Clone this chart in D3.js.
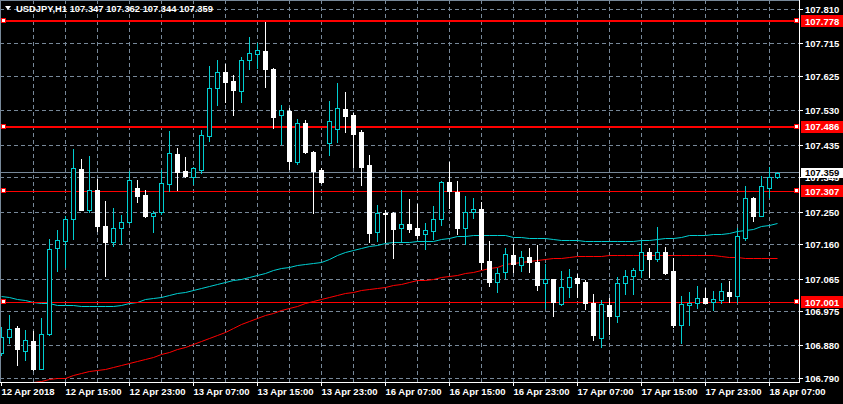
<!DOCTYPE html>
<html><head><meta charset="utf-8">
<script src="https://cdn.jsdelivr.net/npm/d3@7"></script>
<style>html,body{margin:0;padding:0;background:#000;}svg{display:block;}</style>
</head><body>
<script>
// ---- data (USDJPY H1) ----
const symbol = "USDJPY,H1";
const open = [106.860,106.904,106.929,106.867,106.894,106.817,106.912,107.150,107.171,107.230,
107.368,107.257,107.311,107.212,107.168,107.205,107.222,107.316,107.297,107.240,
107.249,107.327,107.410,107.364,107.348,107.366,107.461,107.592,107.636,107.612,
107.586,107.671,107.688,107.695,107.646,107.518,107.529,107.389,107.495,107.417,
107.366,107.442,107.479,107.535,107.518,107.471,107.380,107.196,107.247,107.247,
107.205,107.216,107.205,107.189,107.199,107.230,107.332,107.306,107.207,107.251,
107.259,107.115,107.056,107.084,107.131,107.104,107.125,107.113,107.053,107.064,
106.996,107.042,107.068,107.056,107.000,106.903,106.993,106.964,107.053,107.074,
107.089,107.139,107.121,107.139,107.087,106.938,106.994,107.000,107.012,107.002,
107.007,107.029,107.019,107.179,107.288,107.240,107.317,107.347];
const high = [106.933,106.966,106.935,106.924,106.922,106.956,107.176,107.200,107.239,107.424,
107.397,107.405,107.341,107.281,107.260,107.242,107.364,107.339,107.311,107.254,
107.366,107.474,107.426,107.401,107.375,107.477,107.654,107.670,107.659,107.629,
107.678,107.734,107.717,107.775,107.648,107.546,107.537,107.507,107.505,107.419,
107.371,107.557,107.606,107.582,107.523,107.477,107.408,107.270,107.256,107.251,
107.311,107.286,107.272,107.219,107.266,107.336,107.388,107.336,107.294,107.288,
107.277,107.170,107.095,107.150,107.162,107.142,107.151,107.159,107.107,107.065,
107.087,107.093,107.078,107.062,107.024,107.007,107.013,107.070,107.090,107.095,
107.170,107.150,107.208,107.153,107.122,107.018,107.028,107.046,107.041,107.032,
107.055,107.059,107.205,107.322,107.293,107.350,107.375,107.362];
const low = [106.855,106.887,106.828,106.841,106.813,106.815,106.910,107.088,107.099,107.175,
107.255,107.251,107.199,107.073,107.156,107.161,107.219,107.277,107.237,107.196,
107.246,107.309,107.311,107.348,107.327,107.357,107.446,107.546,107.553,107.518,
107.555,107.646,107.647,107.597,107.482,107.438,107.368,107.383,107.414,107.248,
107.331,107.408,107.445,107.472,107.375,107.324,107.168,107.171,107.167,107.124,
107.166,107.196,107.179,107.147,107.176,107.214,107.260,107.189,107.162,107.233,
107.092,107.047,107.030,107.067,107.084,107.087,107.084,107.035,106.985,106.964,
106.993,107.016,107.016,106.982,106.896,106.878,106.913,106.947,107.024,107.024,
107.071,107.071,107.116,107.079,106.932,106.889,106.938,106.984,106.998,106.979,
106.998,107.002,107.002,107.173,107.225,107.238,107.291,107.344];
const close = [106.904,106.926,106.871,106.896,106.816,106.912,107.147,107.173,107.230,107.371,
107.257,107.311,107.212,107.168,107.205,107.222,107.339,107.295,107.239,107.247,
107.330,107.413,107.362,107.350,107.371,107.463,107.592,107.636,107.610,107.588,
107.670,107.689,107.697,107.646,107.514,107.531,107.392,107.495,107.417,107.364,
107.334,107.503,107.537,107.516,107.466,107.375,107.193,107.247,107.245,107.203,
107.216,107.203,107.187,107.200,107.230,107.332,107.308,107.207,107.249,107.258,
107.113,107.056,107.081,107.133,107.107,107.127,107.112,107.048,107.064,107.001,
107.042,107.070,107.055,106.998,106.910,106.995,106.964,107.053,107.074,107.089,
107.139,107.121,107.139,107.082,106.938,106.995,107.000,107.012,107.000,107.009,
107.032,107.018,107.184,107.288,107.239,107.321,107.347,107.359];
const maFast = [107.016,107.014,107.009,107.005,107.001,106.998,106.996,106.993,106.993,106.993,
106.990,106.990,106.990,106.990,106.990,106.993,106.996,107.001,107.007,107.010,
107.014,107.019,107.024,107.028,107.033,107.039,107.044,107.050,107.055,107.060,
107.065,107.069,107.074,107.080,107.089,107.093,107.097,107.101,107.104,107.108,
107.111,107.120,107.129,107.137,107.145,107.149,107.155,107.159,107.164,107.166,
107.166,107.166,107.170,107.170,107.170,107.174,107.178,107.182,107.182,107.184,
107.184,107.186,107.184,107.184,107.181,107.180,107.178,107.178,107.178,107.175,
107.172,107.172,107.172,107.169,107.169,107.169,107.169,107.169,107.169,107.169,
107.172,107.172,107.175,107.178,107.178,107.180,107.184,107.186,107.186,107.189,
107.189,107.191,107.195,107.198,107.203,107.209,107.212,107.219];
const maSlow = [null,null,null,null,106.778,106.783,106.786,106.789,106.791,106.797,
106.804,106.808,106.812,106.816,106.820,106.825,106.831,106.837,106.842,106.849,
106.855,106.862,106.869,106.876,106.883,106.891,106.901,106.910,106.918,106.928,
106.938,106.948,106.956,106.963,106.970,106.977,106.983,106.990,106.996,107.003,
107.009,107.014,107.019,107.025,107.029,107.033,107.036,107.039,107.042,107.046,
107.051,107.055,107.060,107.062,107.065,107.068,107.071,107.076,107.080,107.084,
107.089,107.094,107.098,107.104,107.108,107.110,107.113,107.116,107.119,107.122,
107.123,107.124,107.126,107.127,107.127,107.128,107.129,107.129,107.129,107.130,
107.131,107.131,107.131,107.131,107.131,107.131,107.131,107.131,107.131,107.131,
107.127,107.124,107.124,107.121,107.121,107.121,107.121,107.121];
const timeLabels = ["12 Apr 2018","12 Apr 15:00","12 Apr 23:00","13 Apr 07:00","13 Apr 15:00","13 Apr 23:00",
  "16 Apr 07:00","16 Apr 15:00","16 Apr 23:00","17 Apr 07:00","17 Apr 15:00","17 Apr 23:00","18 Apr 07:00"];
const timeLabelBars = [0,8,16,24,32,40,48,56,64,72,80,88,96];
const priceTicks = [107.810,107.715,107.625,107.530,107.435,107.345,107.250,107.160,107.065,106.975,106.880,106.790];
const hLevels = [107.778,107.486,107.307,107.001];
const hWidths = [2,2,1,1];
const bid = 107.359;

// ---- layout ----
const W = 843, H = 404, plotR = 799, plotB = 382;
const BULL = "#00ced1", BEAR = "#ffffff", GRID = "#778899", FONT = "'Liberation Sans', Arial, sans-serif";
const FS = 9.5, FW = "bold";

const svg = d3.select("body").append("svg").attr("width", W).attr("height", H)
  .style("background", "#000").attr("font-family", FONT);

const n = close.length;
const x = d3.scaleLinear().domain([0, n - 1]).range([1.5, 1.5 + 8 * (n - 1)]);
const y = d3.scaleLinear().domain([106.790, 107.810]).range([378.5, 9.5]);
const py = v => Math.round(y(v) - 0.5) + 0.5;

svg.append("defs").append("clipPath").attr("id", "clip")
  .append("rect").attr("x", 0).attr("y", 0).attr("width", plotR).attr("height", plotB);

const plot = svg.append("g").attr("clip-path", "url(#clip)");

// grid
const gridBars = d3.range(4, n + 4, 4).filter(i => x(i) < plotR);
plot.append("g").selectAll("line").data(priceTicks).join("line")
  .attr("x1", 0).attr("x2", plotR).attr("y1", d => py(d)).attr("y2", d => py(d))
  .attr("stroke", GRID).attr("stroke-dasharray", "4,3").attr("shape-rendering", "crispEdges");
plot.append("g").selectAll("line").data(gridBars).join("line")
  .attr("x1", d => x(d)).attr("x2", d => x(d)).attr("y1", 0).attr("y2", plotB)
  .attr("stroke", GRID).attr("stroke-dasharray", "4,3").attr("shape-rendering", "crispEdges");

// bid line
plot.append("line").attr("x1", 0).attr("x2", plotR).attr("y1", py(bid)).attr("y2", py(bid))
  .attr("stroke", GRID).attr("shape-rendering", "crispEdges");

// moving averages
const idx = d3.range(n);
plot.append("path").datum(idx).attr("fill", "none").attr("stroke", BULL).attr("stroke-width", 1)
  .attr("d", d3.line().x(i => x(i)).y(i => py(maFast[i])));
plot.append("path").datum(idx).attr("fill", "none").attr("stroke", "#ff0000").attr("stroke-width", 1)
  .attr("d", d3.line().defined(i => maSlow[i] != null).x(i => x(i)).y(i => py(maSlow[i])));

// horizontal lines
hLevels.forEach((lv, k) => {
  const yy = hWidths[k] === 2 ? Math.round(y(lv)) : py(lv);
  plot.append("line").attr("x1", 0).attr("x2", plotR).attr("y1", yy).attr("y2", yy)
    .attr("stroke", "#ff0000").attr("stroke-width", hWidths[k]).attr("shape-rendering", "crispEdges");
});

// candles
const candles = plot.append("g").attr("shape-rendering", "crispEdges");
idx.forEach(i => {
  const bull = close[i] > open[i];
  const col = bull ? BULL : BEAR;
  const cx = x(i);
  candles.append("line").attr("x1", cx).attr("x2", cx)
    .attr("y1", Math.round(y(high[i]))).attr("y2", Math.round(y(low[i])) + 1).attr("stroke", col);
  const t = Math.round(y(Math.max(open[i], close[i])));
  const b = Math.round(y(Math.min(open[i], close[i])));
  if (bull) {
    candles.append("rect").attr("x", cx - 2).attr("y", t + 0.5).attr("width", 4).attr("height", Math.max(1, b - t))
      .attr("fill", "#000").attr("stroke", col);
  } else {
    candles.append("rect").attr("x", cx - 2.5).attr("y", t).attr("width", 5).attr("height", Math.max(1, b - t + 1))
      .attr("fill", col);
  }
});

// line end markers
hLevels.forEach(lv => {
  [3, 796].forEach(mx => {
    plot.append("rect").attr("x", mx - 2).attr("y", Math.round(y(lv)) - 2.5).attr("width", 4).attr("height", 4)
      .attr("fill", "#fff").attr("stroke", "#ff0000").attr("shape-rendering", "crispEdges");
  });
});

// frame
svg.append("line").attr("x1", plotR + 0.5).attr("x2", plotR + 0.5).attr("y1", 0).attr("y2", plotB + 1)
  .attr("stroke", "#fff").attr("shape-rendering", "crispEdges");
svg.append("line").attr("x1", 0).attr("x2", plotR + 1).attr("y1", plotB + 0.5).attr("y2", plotB + 0.5)
  .attr("stroke", "#fff").attr("shape-rendering", "crispEdges");
svg.append("line").attr("x1", 0.5).attr("x2", 0.5).attr("y1", 0).attr("y2", plotB)
  .attr("stroke", GRID).attr("shape-rendering", "crispEdges");
svg.append("line").attr("x1", 0).attr("x2", plotR).attr("y1", 0.5).attr("y2", 0.5)
  .attr("stroke", GRID).attr("shape-rendering", "crispEdges");

// price axis
const pa = svg.append("g");
pa.selectAll("line").data(priceTicks).join("line")
  .attr("x1", plotR).attr("x2", plotR + 4).attr("y1", d => py(d)).attr("y2", d => py(d))
  .attr("stroke", "#fff").attr("shape-rendering", "crispEdges");
pa.selectAll("text").data(priceTicks).join("text")
  .attr("x", 805).attr("y", d => y(d) + 3.5).attr("fill", "#fff").attr("font-size", FS).attr("font-weight", FW)
  .text(d => d.toFixed(3));

// level labels
hLevels.forEach(lv => {
  svg.append("rect").attr("x", 801).attr("y", Math.round(y(lv)) - 6).attr("width", 42).attr("height", 12).attr("fill", "#ff0000");
  svg.append("text").attr("x", 805).attr("y", y(lv) + 3.5).attr("fill", "#fff").attr("font-size", FS).attr("font-weight", FW)
    .text(lv.toFixed(3));
});
svg.append("rect").attr("x", 801).attr("y", Math.round(y(bid)) - 5).attr("width", 42).attr("height", 10).attr("fill", "#fff");
svg.append("text").attr("x", 805).attr("y", y(bid) + 3.5).attr("fill", "#000").attr("font-size", FS).attr("font-weight", FW)
  .text(bid.toFixed(3));

// time axis
const ta = svg.append("g");
ta.selectAll("line").data(timeLabelBars).join("line")
  .attr("x1", d => x(d)).attr("x2", d => x(d)).attr("y1", plotB).attr("y2", plotB + 4)
  .attr("stroke", "#fff").attr("shape-rendering", "crispEdges");
ta.selectAll("text").data(timeLabelBars).join("text")
  .attr("x", d => x(d)).attr("y", 395).attr("fill", "#fff").attr("font-size", FS).attr("font-weight", FW)
  .text((d, k) => timeLabels[k]);

// title
svg.append("path").attr("d", "M5,6 L11,6 L8,10 Z").attr("fill", "#fff");
svg.append("text").attr("x", 16).attr("y", 12).attr("fill", "#fff").attr("font-size", 9.8).attr("font-weight", FW)
  .attr("textLength", 197).attr("lengthAdjust", "spacingAndGlyphs")
  .text(`${symbol} ${open[n-1].toFixed(3)} ${high[n-1].toFixed(3)} ${low[n-1].toFixed(3)} ${close[n-1].toFixed(3)}`);
</script>
</body></html>
